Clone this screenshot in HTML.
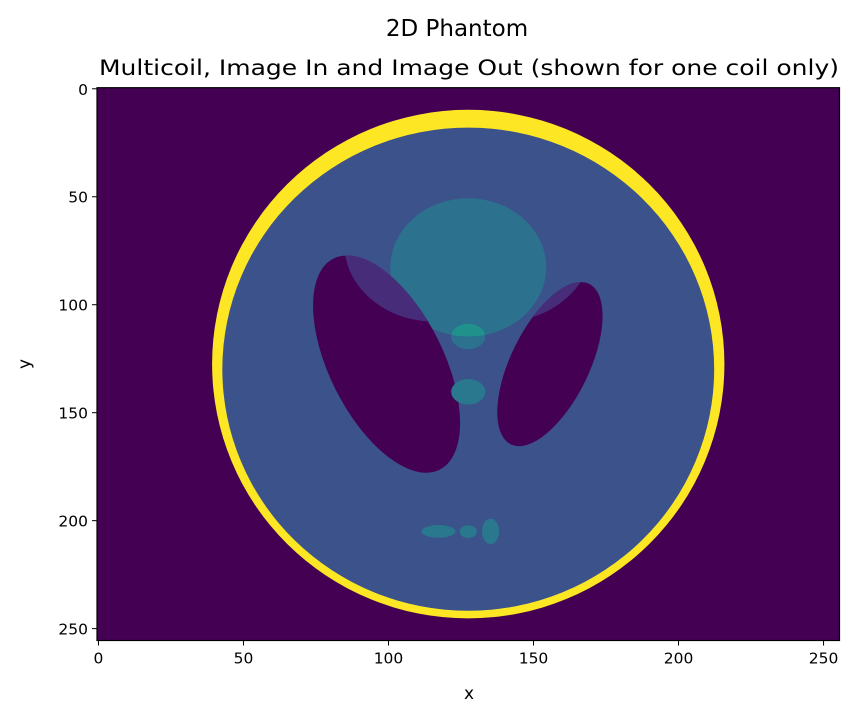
<!DOCTYPE html>
<html><head><meta charset="utf-8"><style>
body{margin:0;background:#fff;}
svg text{font-family:"DejaVu Sans","Liberation Sans",sans-serif;fill:#000;}
</style></head><body>
<svg id="chart" width="860" height="719" viewBox="0 0 860 719">
<text x="457" y="36" font-size="23" text-anchor="middle">2D Phantom</text>
<text x="469" y="75" font-size="21" text-anchor="middle" textLength="740" lengthAdjust="spacingAndGlyphs">Multicoil, Image In and Image Out (shown for one coil only)</text>
<defs><clipPath id="plotclip"><rect x="97" y="87.7" width="742.5" height="552.8"/></clipPath></defs>
<g id="plot" clip-path="url(#plotclip)"></g>
<rect x="97" y="87.7" width="742.5" height="552.8" fill="none" stroke="#000" stroke-width="1.2"/>
<g id="axes"></g>
<text x="469" y="699" font-size="17" text-anchor="middle">x</text>
<text x="30" y="364" font-size="17" text-anchor="middle" transform="rotate(-90 30 364)">y</text>
</svg>
<script>
// Shepp-Logan ellipse parameters (normalized coordinates)
const ellA = [0.69, 0.6624, 0.11, 0.16, 0.21, 0.046, 0.046, 0.046, 0.023, 0.023];
const ellB = [0.92, 0.874, 0.31, 0.41, 0.25, 0.046, 0.046, 0.023, 0.023, 0.046];
const ellX = [0, 0, 0.22, -0.22, 0, 0, 0, -0.08, 0, 0.06];
const ellY = [0, -0.0184, 0, 0, 0.35, 0.1, -0.1, -0.605, -0.606, -0.605];
const ellPhi = [0, 0, -18, 18, 0, 0, 0, 0, 0, 0];
const ellColor = ['#fde725', '#3b528b', '#440154', '#440154', '#2c728e', '#2c728e', '#2a788e', '#2a788e', '#2a788e', '#2a788e'];
const xTicks = [0, 50, 100, 150, 200, 250];
const yTicks = [0, 50, 100, 150, 200, 250];
const N = 256;

const NS = 'http://www.w3.org/2000/svg';
const x0 = 97, x1 = 839.5, y0 = 87.7, y1 = 640.5;
function sx(v){ return x0 + (v + 0.5) * (x1 - x0) / N; }
function sy(v){ return y0 + (v + 0.5) * (y1 - y0) / N; }
function colOf(x){ return (N / 2) + x * (N / 2) - 0.5; }
function rowOf(y){ return (N / 2) - y * (N / 2) - 0.5; }

const plot = document.getElementById('plot');
const bg = document.createElementNS(NS, 'rect');
bg.setAttribute('x', x0); bg.setAttribute('y', y0);
bg.setAttribute('width', x1 - x0); bg.setAttribute('height', y1 - y0);
bg.setAttribute('fill', '#440154');


plot.appendChild(bg);

const kx = (x1 - x0) / N, ky = (y1 - y0) / N;
function ellipseEl(i, color){
  const cx = colOf(ellX[i]), cy = rowOf(ellY[i]);
  const e = document.createElementNS(NS, 'ellipse');
  e.setAttribute('cx', cx); e.setAttribute('cy', cy);
  e.setAttribute('rx', ellA[i] * N / 2); e.setAttribute('ry', ellB[i] * N / 2);
  e.setAttribute('transform', 'rotate(' + (-ellPhi[i]) + ' ' + cx + ' ' + cy + ')');
  e.setAttribute('fill', color);
  return e;
}
const g = document.createElementNS(NS, 'g');
g.setAttribute('transform', 'translate(' + (x0 + kx * 0.5) + ' ' + (y0 + ky * 0.5) + ') scale(' + kx + ' ' + ky + ')');
plot.appendChild(g);

const defs = document.querySelector('defs');
const cp = document.createElementNS(NS, 'clipPath');
cp.setAttribute('id', 'e5clip');
cp.appendChild(ellipseEl(4, '#000'));
defs.appendChild(cp);

const order = [0, 1, 4, 2, 3];
order.forEach(i => {
  const e = ellipseEl(i, ellColor[i]);
  
  
  g.appendChild(e);
});
[2, 3].forEach(i => {
  const e = ellipseEl(i, '#472c7a');
  e.setAttribute('clip-path', 'url(#e5clip)');
  
  
  g.appendChild(e);
});
[5, 6, 7, 8, 9].forEach(i => {
  const e = ellipseEl(i, ellColor[i]);
  
  
  g.appendChild(e);
});
const e6b = ellipseEl(5, '#21918c');
e6b.setAttribute('clip-path', 'url(#e5clip)');


g.appendChild(e6b);

const axes = document.getElementById('axes');
xTicks.forEach(t => {
  const X = sx(t);
  const l = document.createElementNS(NS, 'line');
  l.setAttribute('x1', X); l.setAttribute('x2', X); l.setAttribute('y1', y1); l.setAttribute('y2', y1 + 5);
  l.setAttribute('stroke', '#000');
  
  
  axes.appendChild(l);
  const tx = document.createElementNS(NS, 'text');
  tx.setAttribute('x', X); tx.setAttribute('y', y1 + 23);
  tx.setAttribute('font-size', '15.5'); tx.setAttribute('text-anchor', 'middle');
  tx.textContent = t;
  
  
  axes.appendChild(tx);
});
yTicks.forEach(t => {
  const Y = sy(t);
  const l = document.createElementNS(NS, 'line');
  l.setAttribute('x1', x0 - 5); l.setAttribute('x2', x0); l.setAttribute('y1', Y); l.setAttribute('y2', Y);
  l.setAttribute('stroke', '#000');
  
  
  axes.appendChild(l);
  const tx = document.createElementNS(NS, 'text');
  tx.setAttribute('x', x0 - 9); tx.setAttribute('y', Y + 6);
  tx.setAttribute('font-size', '15.5'); tx.setAttribute('text-anchor', 'end');
  tx.textContent = t;
  
  
  axes.appendChild(tx);
});
</script>
</body></html>
